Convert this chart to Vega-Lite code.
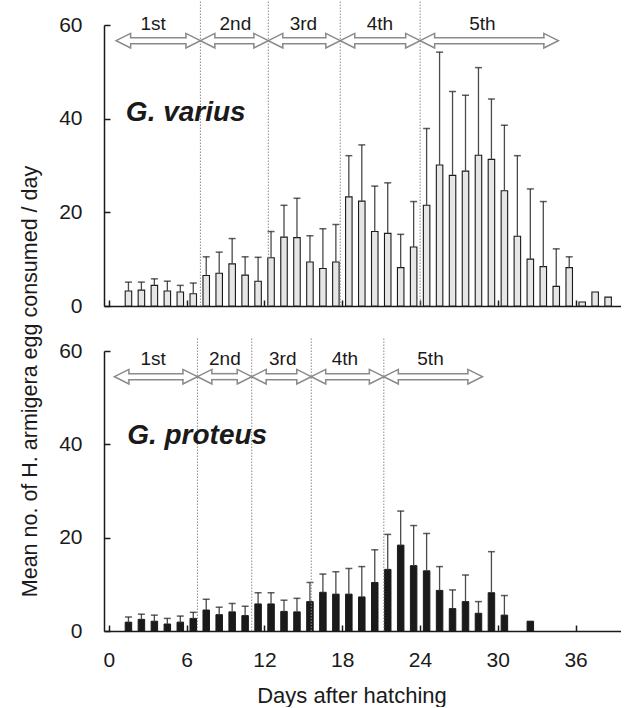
{
  "$schema": "https://vega.github.io/schema/vega-lite/v6.json",
  "padding": {"left": 19, "top": 0, "right": 0, "bottom": 0},
  "bounds": "flush",
  "spacing": 45,
  "config": {
    "font": "Liberation Sans",
    "view": {"stroke": null},
    "axis": {
      "domainColor": "#1a1a1a", "domainWidth": 1.5,
      "tickColor": "#1a1a1a", "tickWidth": 1.5, "tickSize": -6,
      "labelColor": "#1a1a1a", "labelFontSize": 21, "labelFont": "Liberation Sans",
      "grid": false, "labelFlush": false,
      "titleColor": "#1a1a1a", "titleFontSize": 21.5, "titleFontWeight": "normal", "titleFont": "Liberation Sans"
    }
  },
  "datasets": {
    "varius": [
      {"day": 1, "mean": 3.2, "upper": 5.1}, {"day": 2, "mean": 3.4, "upper": 5.1},
      {"day": 3, "mean": 4.4, "upper": 5.8}, {"day": 4, "mean": 3.2, "upper": 5.3},
      {"day": 5, "mean": 3.0, "upper": 4.4}, {"day": 6, "mean": 2.6, "upper": 4.9},
      {"day": 7, "mean": 6.5, "upper": 10.5}, {"day": 8, "mean": 7.0, "upper": 11.5},
      {"day": 9, "mean": 9.0, "upper": 14.4}, {"day": 10, "mean": 6.6, "upper": 10.5},
      {"day": 11, "mean": 5.3, "upper": 10.4}, {"day": 12, "mean": 10.3, "upper": 15.9},
      {"day": 13, "mean": 14.7, "upper": 21.5}, {"day": 14, "mean": 14.6, "upper": 23.0},
      {"day": 15, "mean": 9.4, "upper": 15.0}, {"day": 16, "mean": 8.0, "upper": 16.5},
      {"day": 17, "mean": 9.4, "upper": 17.4}, {"day": 18, "mean": 23.3, "upper": 32.1},
      {"day": 19, "mean": 22.4, "upper": 34.4}, {"day": 20, "mean": 15.9, "upper": 25.6},
      {"day": 21, "mean": 15.5, "upper": 26.3}, {"day": 22, "mean": 8.2, "upper": 15.3},
      {"day": 23, "mean": 12.6, "upper": 22.3}, {"day": 24, "mean": 21.5, "upper": 37.9},
      {"day": 25, "mean": 30.1, "upper": 54.2}, {"day": 26, "mean": 27.9, "upper": 45.8},
      {"day": 27, "mean": 28.8, "upper": 45.0}, {"day": 28, "mean": 32.2, "upper": 50.9},
      {"day": 29, "mean": 31.3, "upper": 44.2}, {"day": 30, "mean": 24.6, "upper": 38.6},
      {"day": 31, "mean": 14.9, "upper": 32.1}, {"day": 32, "mean": 10.0, "upper": 25.0},
      {"day": 33, "mean": 8.4, "upper": 22.3}, {"day": 34, "mean": 4.2, "upper": 12.2},
      {"day": 35, "mean": 8.2, "upper": 10.5}, {"day": 36, "mean": 0.85, "upper": null},
      {"day": 37, "mean": 3.0, "upper": null}, {"day": 38, "mean": 1.9, "upper": null}
    ],
    "proteus": [
      {"day": 1, "mean": 1.9, "upper": 3.0}, {"day": 2, "mean": 2.5, "upper": 3.6},
      {"day": 3, "mean": 2.1, "upper": 3.4}, {"day": 4, "mean": 1.5, "upper": 2.7},
      {"day": 5, "mean": 1.9, "upper": 3.2}, {"day": 6, "mean": 2.7, "upper": 4.0},
      {"day": 7, "mean": 4.5, "upper": 6.8}, {"day": 8, "mean": 3.5, "upper": 5.1},
      {"day": 9, "mean": 4.1, "upper": 5.9}, {"day": 10, "mean": 3.3, "upper": 5.3},
      {"day": 11, "mean": 5.8, "upper": 8.2}, {"day": 12, "mean": 5.8, "upper": 8.2},
      {"day": 13, "mean": 4.2, "upper": 6.6}, {"day": 14, "mean": 4.1, "upper": 7.0},
      {"day": 15, "mean": 6.3, "upper": 10.4}, {"day": 16, "mean": 8.3, "upper": 12.2},
      {"day": 17, "mean": 7.9, "upper": 12.7}, {"day": 18, "mean": 7.9, "upper": 13.4},
      {"day": 19, "mean": 7.3, "upper": 13.8}, {"day": 20, "mean": 10.4, "upper": 17.4},
      {"day": 21, "mean": 13.2, "upper": 20.7}, {"day": 22, "mean": 18.4, "upper": 25.7},
      {"day": 23, "mean": 14.0, "upper": 22.6}, {"day": 24, "mean": 12.9, "upper": 20.9},
      {"day": 25, "mean": 8.7, "upper": 13.8}, {"day": 26, "mean": 4.8, "upper": 8.8},
      {"day": 27, "mean": 6.3, "upper": 12.0}, {"day": 28, "mean": 3.8, "upper": 6.3},
      {"day": 29, "mean": 8.2, "upper": 17.0}, {"day": 30, "mean": 3.4, "upper": 7.6},
      {"day": 32, "mean": 2.1, "upper": null}
    ],
    "instars": [
      {"species": "G. varius", "instar": "1st", "start": 0.05, "end": 6.55, "mid": 2.9},
      {"species": "G. varius", "instar": "2nd", "start": 6.55, "end": 11.79, "mid": 9.25},
      {"species": "G. varius", "instar": "3rd", "start": 11.79, "end": 17.34, "mid": 14.5},
      {"species": "G. varius", "instar": "4th", "start": 17.34, "end": 23.5, "mid": 20.4},
      {"species": "G. varius", "instar": "5th", "start": 23.5, "end": 34.16, "mid": 28.3},
      {"species": "G. proteus", "instar": "1st", "start": -0.08, "end": 6.32, "mid": 2.9},
      {"species": "G. proteus", "instar": "2nd", "start": 6.32, "end": 10.51, "mid": 8.44},
      {"species": "G. proteus", "instar": "3rd", "start": 10.51, "end": 15.1, "mid": 12.9},
      {"species": "G. proteus", "instar": "4th", "start": 15.1, "end": 20.7, "mid": 17.7},
      {"species": "G. proteus", "instar": "5th", "start": 20.7, "end": 28.3, "mid": 24.3}
    ]
  },
  "vconcat": [
    {
      "width": 516.5,
      "height": 281,
      "layer": [
        {
          "data": {"name": "varius"},
          "mark": {"type": "bar", "orient": "vertical", "width": 6.5, "fill": "#e6e6e6", "stroke": "#1a1a1a", "strokeWidth": 1.1},
          "encoding": {
            "x": {"field": "day", "type": "quantitative",
                  "scale": {"domain": [-0.5, 38.57], "nice": false, "zero": false},
                  "axis": {"values": [0, 6, 12, 18, 24, 30, 36], "labels": false, "tickOffset": -6.61, "title": null}},
            "y": {"field": "mean", "type": "quantitative",
                  "scale": {"domain": [0, 60], "nice": false},
                  "axis": {"values": [0, 20, 40, 60], "labelPadding": 28,
                           "title": "Mean no. of H. armigera egg consumed / day",
                           "titleAngle": 270, "titleX": -67.5, "titleY": 356,
                           "titleBaseline": "alphabetic", "titleAlign": "center"}}
          }
        },
        {
          "data": {"name": "varius"},
          "transform": [{"filter": "datum.upper != null"}],
          "mark": {"type": "rule", "color": "#4a4a4a", "strokeWidth": 1.3},
          "encoding": {
            "x": {"field": "day", "type": "quantitative"},
            "y": {"field": "mean", "type": "quantitative"},
            "y2": {"field": "upper"}
          }
        },
        {
          "data": {"name": "varius"},
          "transform": [{"filter": "datum.upper != null"}],
          "mark": {"type": "tick", "orient": "horizontal", "size": 7, "thickness": 1.5, "color": "#1a1a1a"},
          "encoding": {
            "x": {"field": "day", "type": "quantitative"},
            "y": {"field": "upper", "type": "quantitative"}
          }
        },
        {
          "data": {"name": "instars"},
          "transform": [{"filter": "datum.species === 'G. varius' && datum.start > 1"}],
          "mark": {"type": "rule", "color": "#8a8a8a", "strokeWidth": 1, "strokeDash": [1.5, 1.5]},
          "encoding": {
            "x": {"field": "start", "type": "quantitative"},
            "y": {"datum": 0},
            "y2": {"datum": 65.1}
          }
        },
        {
          "data": {"name": "instars"},
          "transform": [{"filter": "datum.species === 'G. varius'"}],
          "mark": {"type": "point", "shape": "M0,0L2,-1L2,1Z", "size": 210, "filled": true, "fill": "white", "stroke": "#8a8a8a", "strokeWidth": 1.5, "opacity": 1},
          "encoding": {
            "x": {"field": "start", "type": "quantitative"},
            "y": {"datum": 56.65}
          }
        },
        {
          "data": {"name": "instars"},
          "transform": [{"filter": "datum.species === 'G. varius'"}],
          "mark": {"type": "point", "shape": "M0,0L-2,-1L-2,1Z", "size": 210, "filled": true, "fill": "white", "stroke": "#8a8a8a", "strokeWidth": 1.5, "opacity": 1},
          "encoding": {
            "x": {"field": "end", "type": "quantitative"},
            "y": {"datum": 56.65}
          }
        },
        {
          "data": {"name": "instars"},
          "transform": [{"filter": "datum.species === 'G. varius'"}],
          "mark": {"type": "rule", "color": "#8a8a8a", "strokeWidth": 7.5, "xOffset": 14, "x2Offset": -14},
          "encoding": {
            "x": {"field": "start", "type": "quantitative"},
            "x2": {"field": "end"},
            "y": {"datum": 56.65}
          }
        },
        {
          "data": {"name": "instars"},
          "transform": [{"filter": "datum.species === 'G. varius'"}],
          "mark": {"type": "rule", "color": "white", "strokeWidth": 4.5, "xOffset": 13, "x2Offset": -13},
          "encoding": {
            "x": {"field": "start", "type": "quantitative"},
            "x2": {"field": "end"},
            "y": {"datum": 56.65}
          }
        },
        {
          "data": {"name": "instars"},
          "transform": [{"filter": "datum.species === 'G. varius'"}],
          "mark": {"type": "text", "fontSize": 19, "color": "#1a1a1a", "align": "center", "baseline": "alphabetic"},
          "encoding": {
            "x": {"field": "mid", "type": "quantitative"},
            "y": {"datum": 58.9},
            "text": {"field": "instar"}
          }
        },
        {
          "data": {"values": [{"species": "G. varius"}]},
          "mark": {"type": "text", "fontSize": 28, "fontWeight": "bold", "fontStyle": "italic", "color": "#1a1a1a", "align": "left", "baseline": "alphabetic"},
          "encoding": {
            "x": {"datum": 0.8},
            "y": {"datum": 39.5},
            "text": {"field": "species"}
          }
        }
      ]
    },
    {
      "width": 516.5,
      "height": 280,
      "layer": [
        {
          "data": {"name": "proteus"},
          "mark": {"type": "bar", "orient": "vertical", "width": 6.5, "fill": "#1a1a1a", "stroke": "#1a1a1a", "strokeWidth": 1},
          "encoding": {
            "x": {"field": "day", "type": "quantitative",
                  "scale": {"domain": [-0.5, 38.57], "nice": false, "zero": false},
                  "axis": {"values": [0, 6, 12, 18, 24, 30, 36], "tickOffset": -6.61, "labelOffset": 0,
                           "labelPadding": 24.5, "title": "Days after hatching",
                           "titleX": 247.5, "titleY": 71.7, "titleBaseline": "alphabetic", "titleAlign": "center", "titleFontSize": 22}},
            "y": {"field": "mean", "type": "quantitative",
                  "scale": {"domain": [0, 60], "nice": false},
                  "axis": {"values": [0, 20, 40, 60], "labelPadding": 28, "title": null}}
          }
        },
        {
          "data": {"name": "proteus"},
          "transform": [{"filter": "datum.upper != null"}],
          "mark": {"type": "rule", "color": "#4a4a4a", "strokeWidth": 1.3},
          "encoding": {
            "x": {"field": "day", "type": "quantitative"},
            "y": {"field": "mean", "type": "quantitative"},
            "y2": {"field": "upper"}
          }
        },
        {
          "data": {"name": "proteus"},
          "transform": [{"filter": "datum.upper != null"}],
          "mark": {"type": "tick", "orient": "horizontal", "size": 7, "thickness": 1.5, "color": "#1a1a1a"},
          "encoding": {
            "x": {"field": "day", "type": "quantitative"},
            "y": {"field": "upper", "type": "quantitative"}
          }
        },
        {
          "data": {"name": "instars"},
          "transform": [{"filter": "datum.species === 'G. proteus' && datum.start > 1"}],
          "mark": {"type": "rule", "color": "#8a8a8a", "strokeWidth": 1, "strokeDash": [1.5, 1.5]},
          "encoding": {
            "x": {"field": "start", "type": "quantitative"},
            "y": {"datum": 0},
            "y2": {"datum": 62.8}
          }
        },
        {
          "data": {"name": "instars"},
          "transform": [{"filter": "datum.species === 'G. proteus'"}],
          "mark": {"type": "point", "shape": "M0,0L2,-1L2,1Z", "size": 210, "filled": true, "fill": "white", "stroke": "#8a8a8a", "strokeWidth": 1.5, "opacity": 1},
          "encoding": {
            "x": {"field": "start", "type": "quantitative"},
            "y": {"datum": 54.5}
          }
        },
        {
          "data": {"name": "instars"},
          "transform": [{"filter": "datum.species === 'G. proteus'"}],
          "mark": {"type": "point", "shape": "M0,0L-2,-1L-2,1Z", "size": 210, "filled": true, "fill": "white", "stroke": "#8a8a8a", "strokeWidth": 1.5, "opacity": 1},
          "encoding": {
            "x": {"field": "end", "type": "quantitative"},
            "y": {"datum": 54.5}
          }
        },
        {
          "data": {"name": "instars"},
          "transform": [{"filter": "datum.species === 'G. proteus'"}],
          "mark": {"type": "rule", "color": "#8a8a8a", "strokeWidth": 7.5, "xOffset": 14, "x2Offset": -14},
          "encoding": {
            "x": {"field": "start", "type": "quantitative"},
            "x2": {"field": "end"},
            "y": {"datum": 54.5}
          }
        },
        {
          "data": {"name": "instars"},
          "transform": [{"filter": "datum.species === 'G. proteus'"}],
          "mark": {"type": "rule", "color": "white", "strokeWidth": 4.5, "xOffset": 13, "x2Offset": -13},
          "encoding": {
            "x": {"field": "start", "type": "quantitative"},
            "x2": {"field": "end"},
            "y": {"datum": 54.5}
          }
        },
        {
          "data": {"name": "instars"},
          "transform": [{"filter": "datum.species === 'G. proteus'"}],
          "mark": {"type": "text", "fontSize": 19, "color": "#1a1a1a", "align": "center", "baseline": "alphabetic"},
          "encoding": {
            "x": {"field": "mid", "type": "quantitative"},
            "y": {"datum": 57.0},
            "text": {"field": "instar"}
          }
        },
        {
          "data": {"values": [{"species": "G. proteus"}]},
          "mark": {"type": "text", "fontSize": 28, "fontWeight": "bold", "fontStyle": "italic", "color": "#1a1a1a", "align": "left", "baseline": "alphabetic"},
          "encoding": {
            "x": {"datum": 0.9},
            "y": {"datum": 40.0},
            "text": {"field": "species"}
          }
        }
      ]
    }
  ]
}
